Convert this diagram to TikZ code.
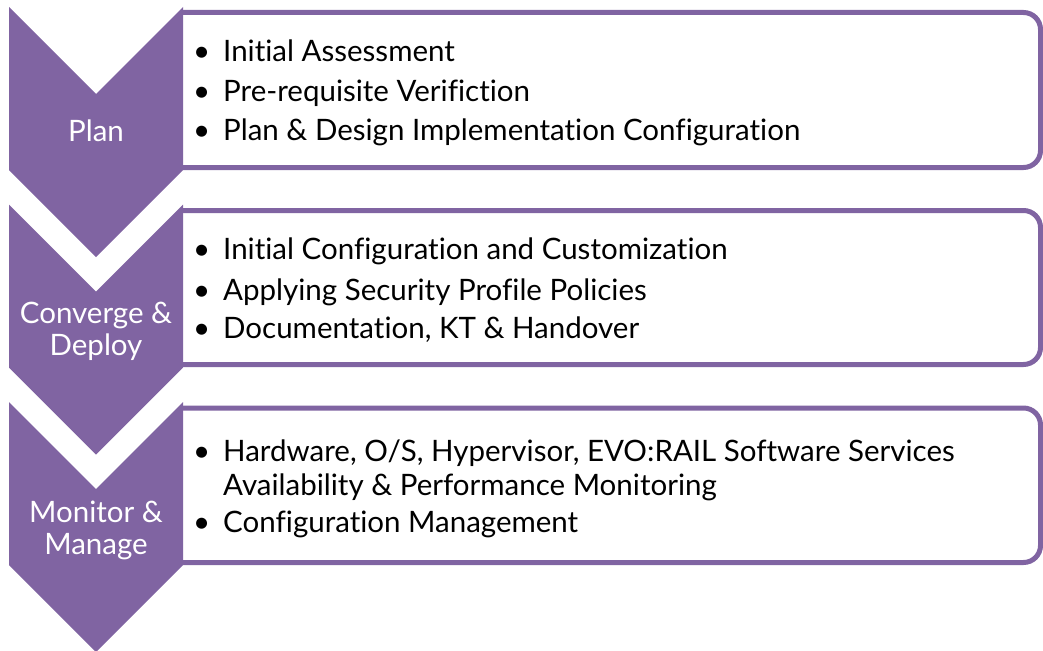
\documentclass[tikz,border=0pt]{standalone}
\usepackage{fontspec}
\setmainfont[Ligatures=NoCommon]{Lato}
\definecolor{chev}{HTML}{8064A2}
\begin{document}
\begin{tikzpicture}[x=1pt,y=-1pt,
  box/.style={draw=chev, line width=5pt, fill=white, rounded corners=17pt},
  chevron/.style={fill=chev, draw=none},
  lbl/.style={text=white, anchor=base, inner sep=0pt, font=\fontsize{29.5}{34}\selectfont},
  item/.style={anchor=base west, inner sep=0pt, font=\fontsize{29.5}{34}\selectfont}]
\useasboundingbox (0,0) rectangle (1043,650);
% boxes (left side hidden by the chevrons)
\fill[white] (183,12.5) rectangle (1040,167.5);
\draw[box] (183,12.5) -- (1040.5,12.5) -- (1040.5,167.5) -- (183,167.5);
\fill[white] (183,210.5) rectangle (1040,364.5);
\draw[box] (183,210.5) -- (1040.5,210.5) -- (1040.5,364.5) -- (183,364.5);
\fill[white] (183,408) rectangle (1040,562.5);
\draw[box] (183,408) -- (1040.5,408) -- (1040.5,562.5) -- (183,562.5);
% chevrons
\fill[chevron] (9,7) -- (96,94) -- (183,7) -- (183,170) -- (96,257) -- (9,170) -- cycle;
\fill[chevron] (9,204.5) -- (96,291.5) -- (183,204.5) -- (183,367.5) -- (96,454.5) -- (9,367.5) -- cycle;
\fill[chevron] (9,402) -- (96,489) -- (183,402) -- (183,565) -- (96,652) -- (9,565) -- cycle;
% chevron labels
\node[lbl] (plan) at (96,142) {Plan};
\node[lbl] (conv1) at (96,323) {Converge \&};
\node[lbl] (conv2) at (96,355) {Deploy};
\node[lbl] (mon1) at (96,522) {Monitor \&};
\node[lbl] (mon2) at (96,554) {Manage};
% items
\node[item] (a1) at (223,62) {\llap{•\hspace{13pt}}Initial Assessment};
\node[item] (a2) at (223,102) {\llap{•\hspace{13pt}}Pre-requisite Verifiction};
\node[item] (a3) at (223,140) {\llap{•\hspace{13pt}}Plan \& Design Implementation Configuration};
\node[item] (b1) at (223,259) {\llap{•\hspace{13pt}}Initial Configuration and Customization};
\node[item] (b2) at (223,300) {\llap{•\hspace{13pt}}Applying Security Profile Policies};
\node[item] (b3) at (223,338) {\llap{•\hspace{13pt}}Documentation, KT \& Handover};
\node[item] (c1) at (223,461) {\llap{•\hspace{13pt}}Hardware, O/S, Hypervisor, EVO:RAIL Software Services};
\node[item] (c2) at (223,495) {Availability \& Performance Monitoring};
\node[item] (c3) at (223,532) {\llap{•\hspace{13pt}}Configuration Management};
\end{tikzpicture}
\end{document}
